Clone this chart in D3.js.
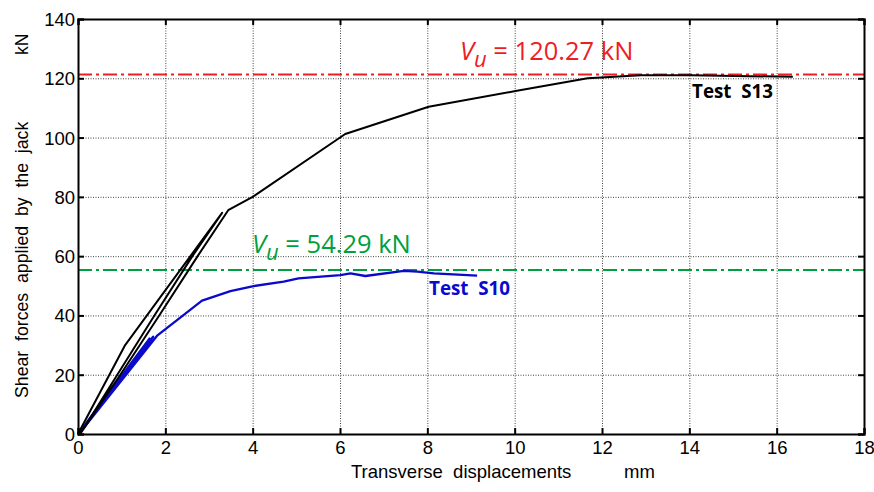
<!DOCTYPE html>
<html>
<head>
<meta charset="utf-8">
<script src="https://cdnjs.cloudflare.com/ajax/libs/d3/7.8.5/d3.min.js"></script>
<style>
  body { margin: 0; background: #fff; }
  text { font-family: "Liberation Sans", Arial, sans-serif; }
</style>
</head>
<body>
<div id="chart"></div>
<script>
// axis ticks
var xTicks = [0, 2, 4, 6, 8, 10, 12, 14, 16, 18];
var yTicks = [0, 20, 40, 60, 80, 100, 120, 140];

// Test S13 (black): first cycle, unloading, reloading, then main curve
var s13x = [0, 1.08, 3.30, 2.62, 1.75, 0.90, 0.05, 0.97, 1.86, 2.74, 3.44, 4.0, 6.12, 8.03, 10.02, 11.67, 12.89, 14.04, 16.37];
var s13y = [0, 30, 74.6, 60, 40, 20, 0, 20, 40, 60, 75.5, 80, 101.2, 110.4, 115.7, 120, 121, 121, 120.5];

// Test S10 (blue): small cycles near the origin then main curve
var s10x = [0, 1.64, 0.02, 1.72, 0.02, 1.82, 2.84, 3.49, 4.02, 4.71, 5.05, 6.01, 6.24, 6.58, 7.46, 7.77, 8.15, 9.14];
var s10y = [0, 32.2, 0, 32.8, 0, 33.3, 45, 48.2, 49.9, 51.4, 52.5, 53.6, 54.2, 53.3, 55, 54.8, 54.2, 53.4];

// ultimate load lines
var vuS13 = 121.3, vuS13Label = "120.27";
var vuS10 = 55.3, vuS10Label = "54.29";

var W = 874, H = 492;
var margin = {top: 19, right: 10, bottom: 58, left: 78},
    width = W - margin.left - margin.right,
    height = H - margin.top - margin.bottom;

var svg = d3.select("#chart")
  .append("svg")
    .attr("width", W)
    .attr("height", H);
var g = svg.append("g")
    .attr("transform", "translate(" + margin.left + "," + margin.top + ")");

var x = d3.scaleLinear().domain([0, 18]).range([0, width]);
var y = d3.scaleLinear().domain([0, 140]).range([height, 0]);

// dotted grid
g.append("g")
  .attr("class", "grid")
  .attr("transform", "translate(0," + height + ")")
  .call(d3.axisBottom(x).tickValues(xTicks.slice(1, -1)).tickSize(-height).tickFormat(""));
g.append("g")
  .attr("class", "grid")
  .call(d3.axisLeft(y).tickValues(yTicks.slice(1, -1)).tickSize(-width).tickFormat(""));
g.selectAll(".grid .domain").remove();
g.selectAll(".grid line")
  .attr("stroke", "#444")
  .attr("stroke-width", 1)
  .attr("stroke-dasharray", "1,1.5");

// reference lines
function refLine(v, col) {
  g.append("line")
    .attr("x1", 0).attr("x2", width)
    .attr("y1", y(v)).attr("y2", y(v))
    .attr("stroke", col)
    .attr("stroke-width", 2)
    .attr("stroke-dasharray", "14,4,3,4");
}
refLine(vuS13, "#ee1c24");
refLine(vuS10, "#00a040");

// curves
var line = d3.line()
  .x(function(d) { return x(d[0]); })
  .y(function(d) { return y(d[1]); });

g.append("path")
  .datum(d3.zip(s10x, s10y))
  .attr("d", line)
  .attr("fill", "none")
  .attr("stroke", "#0a0acc")
  .attr("stroke-width", 2.3)
  .attr("stroke-linejoin", "round");

g.append("path")
  .datum(d3.zip(s13x, s13y))
  .attr("d", line)
  .attr("fill", "none")
  .attr("stroke", "#000")
  .attr("stroke-width", 2)
  .attr("stroke-linejoin", "round");

// axes with inward ticks
var axB = g.append("g").attr("transform", "translate(0," + height + ")")
  .call(d3.axisBottom(x).tickValues(xTicks).tickSize(-6).tickPadding(7));
var axL = g.append("g")
  .call(d3.axisLeft(y).tickValues(yTicks).tickSize(-6).tickPadding(3));
var axT = g.append("g")
  .call(d3.axisTop(x).tickValues(xTicks).tickSize(-6).tickFormat(""));
var axR = g.append("g").attr("transform", "translate(" + width + ",0)")
  .call(d3.axisRight(y).tickValues(yTicks).tickSize(-6).tickFormat(""));

g.selectAll(".domain").attr("stroke", "#000").attr("stroke-width", 2);
[axB, axL, axT, axR].forEach(function(a) {
  a.selectAll(".tick line").attr("stroke", "#000").attr("stroke-width", 2);
  a.selectAll(".tick text")
    .attr("fill", "#000")
    .style("font-size", "18.5px");
});
axL.selectAll(".tick text").attr("dy", "0.35em");

// axis titles
svg.append("text")
  .attr("x", 351).attr("y", 478)
  .attr("xml:space", "preserve")
  .style("font-size", "18.5px")
  .text("Transverse  displacements");
svg.append("text")
  .attr("x", 624).attr("y", 478)
  .style("font-size", "18.5px")
  .text("mm");

svg.append("text")
  .attr("transform", "translate(28,398) rotate(-90)")
  .attr("xml:space", "preserve")
  .style("font-size", "17.7px")
  .text("Shear  forces  applied  by  the  jack");
svg.append("text")
  .attr("transform", "translate(28,55) rotate(-90)")
  .style("font-size", "17.7px")
  .text("kN");

// annotations
function vuLabel(px, py, val, col) {
  var t = svg.append("text")
    .attr("x", px).attr("y", py)
    .attr("fill", col)
    .style("font-family", "'Open Sans', 'Noto Sans', sans-serif")
    .style("font-size", "25.5px");
  t.append("tspan").style("font-style", "italic").text("V");
  t.append("tspan").style("font-style", "italic").attr("dy", 7).style("font-size", "22px").text("u");
  t.append("tspan").attr("dy", -7).text(" = " + val + " kN");
}
vuLabel(460, 60, vuS13Label, "#ee1c24");
vuLabel(252, 253, vuS10Label, "#00a040");

function testLabel(px, py, txt, col) {
  svg.append("text")
    .attr("x", px).attr("y", py)
    .attr("fill", col)
    .attr("xml:space", "preserve")
    .style("font-family", "'Open Sans', 'Noto Sans', sans-serif")
    .style("font-weight", "bold")
    .style("font-size", "18.8px")
    .text(txt);
}
testLabel(692, 98, "Test  S13", "#000");
testLabel(429, 295, "Test  S10", "#0a0acc");
</script>
</body>
</html>
